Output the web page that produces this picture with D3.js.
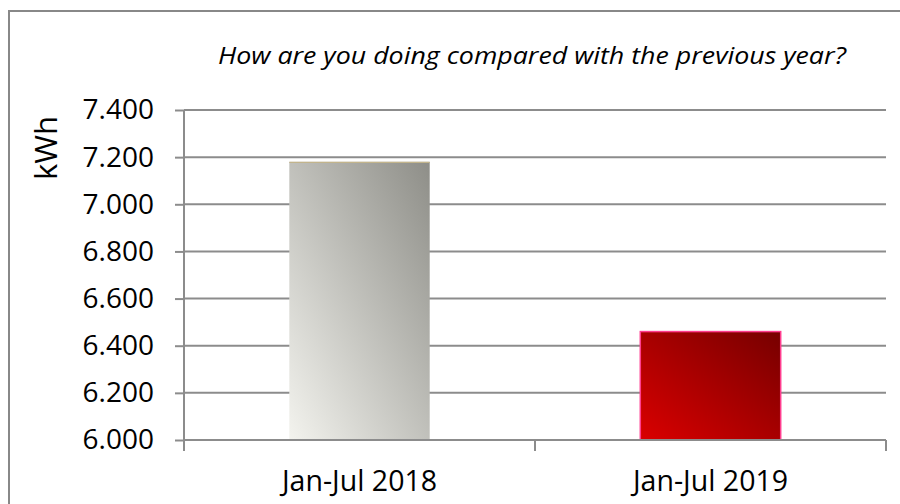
<!DOCTYPE html>
<html><head><meta charset="utf-8">
<script src="https://cdn.jsdelivr.net/npm/d3@7/dist/d3.min.js"></script>
<style>html,body{margin:0;padding:0;background:#fff;}svg{display:block;}</style>
</head><body><svg id="c" width="900" height="504"></svg>
<script>
const categories = ["Jan-Jul 2018", "Jan-Jul 2019"];
const values = [7.18, 6.46];
const yTicks = [6.0, 6.2, 6.4, 6.6, 6.8, 7.0, 7.2, 7.4];
const title = "How are you doing compared with the previous year?";
const yLabel = "kWh";

const svg = d3.select("#c");
const FONT = "'Open Sans', 'Noto Sans', sans-serif";
const L = 184, R = 886, T = 110, B = 440;

// frame
svg.append("rect").attr("x", 9).attr("y", 11).attr("width", 1000).attr("height", 1000)
  .attr("fill", "none").attr("stroke", "#888").attr("stroke-width", 2);

const defs = svg.append("defs");
const g1 = defs.append("linearGradient").attr("id", "gGray").attr("x1", "0").attr("y1", "1").attr("x2", "1").attr("y2", "0");
g1.append("stop").attr("offset", "0").attr("stop-color", "#f3f3ee");
g1.append("stop").attr("offset", "1").attr("stop-color", "#8e8e88");
const g2 = defs.append("linearGradient").attr("id", "gRed").attr("x1", "0").attr("y1", "1").attr("x2", "1").attr("y2", "0");
g2.append("stop").attr("offset", "0").attr("stop-color", "#da0000");
g2.append("stop").attr("offset", "1").attr("stop-color", "#760000");

const x = d3.scaleBand().domain(categories).range([L, R]).paddingInner(0.6).paddingOuter(0.3);
const xb = d3.scaleBand().domain(categories).range([L, R]);
const y = d3.scaleLinear().domain([6.0, 7.4]).range([B, T]);

// gridlines
svg.append("g").selectAll("line").data(yTicks.slice(1)).join("line")
  .attr("x1", L).attr("x2", R).attr("y1", d => y(d)).attr("y2", d => y(d))
  .attr("stroke", "#8c8c8c").attr("stroke-width", 2);

// bars
const fills = ["url(#gGray)", "url(#gRed)"];
const strokes = ["none", "#ff3d8f"];
svg.append("g").selectAll("rect").data(values).join("rect")
  .attr("x", (d, i) => x(categories[i])).attr("width", x.bandwidth())
  .attr("y", d => y(d)).attr("height", d => y(6.0) - y(d))
  .attr("fill", (d, i) => fills[i]).attr("stroke", (d, i) => strokes[i]).attr("stroke-width", 1.5);
// tan top edge on first bar
svg.append("line").attr("x1", x(categories[0])).attr("x2", x(categories[0]) + x.bandwidth())
  .attr("y1", y(values[0]) + 0.5).attr("y2", y(values[0]) + 0.5).attr("stroke", "#c2b48c").attr("stroke-width", 1.2);

// y axis
const yAxis = d3.axisLeft(y).tickValues(yTicks).tickSize(9).tickPadding(21)
  .tickFormat(d => d3.format(".3f")(d));
const ya = svg.append("g").attr("transform", `translate(${L},0)`).call(yAxis);
ya.select(".domain").attr("stroke", "#8c8c8c").attr("stroke-width", 2).attr("d", `M0,${B}V${T}`);
ya.selectAll(".tick line").attr("stroke", "#8c8c8c").attr("stroke-width", 2);
ya.selectAll("text").attr("font-family", FONT).attr("font-size", 28).attr("fill", "#000");

// x axis
const xAxis = d3.axisBottom(xb).tickSize(0).tickPadding(31);
const xa = svg.append("g").attr("transform", `translate(0,${B})`).call(xAxis);
xa.select(".domain").attr("stroke", "#8c8c8c").attr("stroke-width", 2).attr("d", `M${L},0H${R}`);
xa.selectAll("text").attr("font-family", FONT).attr("font-size", 28.5).attr("fill", "#000");
// boundary ticks
const bounds = [L, ...categories.map(c => xb(c) + xb.bandwidth())];
xa.append("g").selectAll("line").data(bounds).join("line")
  .attr("x1", d => d).attr("x2", d => d).attr("y1", 0).attr("y2", 11)
  .attr("stroke", "#8c8c8c").attr("stroke-width", 2);

// title
svg.append("text").attr("x", 218).attr("y", 64)
  .attr("font-family", FONT).attr("font-style", "italic").attr("font-size", 23).attr("fill", "#000")
  .attr("textLength", 628).attr("lengthAdjust", "spacingAndGlyphs")
  .text(title);

// y label
svg.append("text").attr("transform", "translate(57,148) rotate(-90)").attr("text-anchor", "middle")
  .attr("font-family", FONT).attr("font-size", 31).attr("fill", "#000").text(yLabel);
</script></body></html>
